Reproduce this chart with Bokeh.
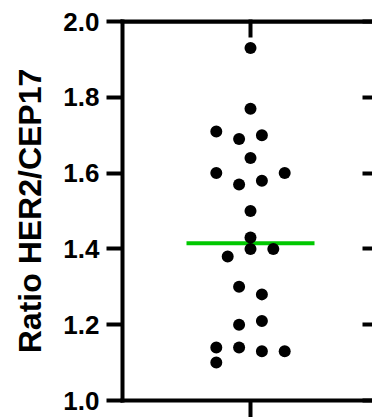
import numpy as np
from bokeh.plotting import figure
from bokeh.models import Range1d, LinearAxis, FixedTicker, ColumnDataSource, Span
from bokeh.embed import file_html
from bokeh.resources import INLINE

# ---- data ----
ratio = [1.93, 1.77, 1.71, 1.69, 1.70, 1.64, 1.60, 1.57, 1.58, 1.60, 1.50,
         1.43, 1.40, 1.40, 1.38, 1.30, 1.28, 1.20, 1.21, 1.14, 1.14, 1.13,
         1.13, 1.10]
slot = [0, 0, -3, -1, 1, 0, -3, -1, 1, 3, 0,
        0, 0, 2, -2, -1, 1, -1, 1, -3, -1, 1,
        3, -3]
y_ticks = [1.0, 1.2, 1.4, 1.6, 1.8, 2.0]
y_label = "Ratio HER2/CEP17"
group_x = 1.0
y_min, y_max = 1.0, 2.0

# ---- style ----
FONT = "Liberation Sans"
SPREAD = 0.0456
HALF = 0.256
LW = 4

xs = [group_x + s * SPREAD for s in slot]
src = ColumnDataSource(dict(x=xs, y=ratio))
med = float(np.median(ratio))

p = figure(width=372, height=417, output_backend="svg", toolbar_location=None,
           x_range=Range1d(0.488, 1.488), y_range=Range1d(y_min, y_max),
           min_border_left=122, min_border_right=0, min_border_top=21,
           min_border_bottom=17, background_fill_color="white",
           border_fill_color="white")
p.outline_line_color = None
p.grid.visible = False

# left axis
ya = p.yaxis[0]
ya.ticker = FixedTicker(ticks=y_ticks)
ya.minor_tick_line_color = None
ya.major_tick_in = 0
ya.major_tick_out = 16
ya.major_tick_line_width = LW
ya.axis_line_width = LW
ya.axis_line_cap = "square"
ya.major_tick_line_color = "black"
ya.axis_line_color = "black"
ya.major_label_text_font = FONT
ya.major_label_text_font_style = "bold"
ya.major_label_text_font_size = "26px"
ya.major_label_text_color = "black"
ya.major_label_standoff = 7
ya.major_label_overrides = {t: f"{t:.1f}" for t in y_ticks}
ya.axis_label = y_label
ya.axis_label_text_font = FONT
ya.axis_label_text_font_style = "bold"
ya.axis_label_text_font_size = "32px"
ya.axis_label_text_color = "black"
ya.axis_label_standoff = 12

# bottom axis
xa = p.xaxis[0]
xa.ticker = FixedTicker(ticks=[group_x])
xa.minor_tick_line_color = None
xa.major_tick_in = 0
xa.major_tick_out = 17
xa.major_tick_line_width = LW
xa.axis_line_width = LW
xa.axis_line_cap = "square"
xa.major_tick_line_color = "black"
xa.axis_line_color = "black"
xa.major_label_text_font_size = "0px"
xa.major_label_standoff = 0
xa.major_label_overrides = {group_x: ""}

# top axis
ta = LinearAxis(ticker=FixedTicker(ticks=[group_x]))
ta.minor_tick_line_color = None
ta.major_tick_in = 16
ta.major_tick_out = 2
ta.major_tick_line_width = LW
ta.major_tick_line_color = "black"
ta.axis_line_width = LW
ta.axis_line_color = "black"
ta.axis_line_cap = "square"
ta.major_label_text_font_size = "0px"
ta.major_label_standoff = 0
ta.major_label_overrides = {group_x: ""}
p.add_layout(ta, "above")
p.add_layout(Span(location=y_max, dimension="width", line_color="black",
                  line_width=LW))

# right axis (ticks only)
ra = LinearAxis(ticker=FixedTicker(ticks=y_ticks))
ra.minor_tick_line_color = None
ra.major_tick_in = 10
ra.major_tick_out = 0
ra.major_tick_line_width = LW
ra.major_tick_line_color = "black"
ra.axis_line_color = None
ra.major_label_text_font_size = "0px"
ra.major_label_standoff = 0
ra.major_label_overrides = {t: "" for t in y_ticks}
p.add_layout(ra, "right")

# median line
p.segment(x0=[group_x - HALF], x1=[group_x + HALF], y0=[med], y1=[med],
          line_color="#00c800", line_width=LW)

# points
p.scatter("x", "y", source=src, size=12, fill_color="black", line_color=None)

open("out.html", "w").write(file_html(p, INLINE))
